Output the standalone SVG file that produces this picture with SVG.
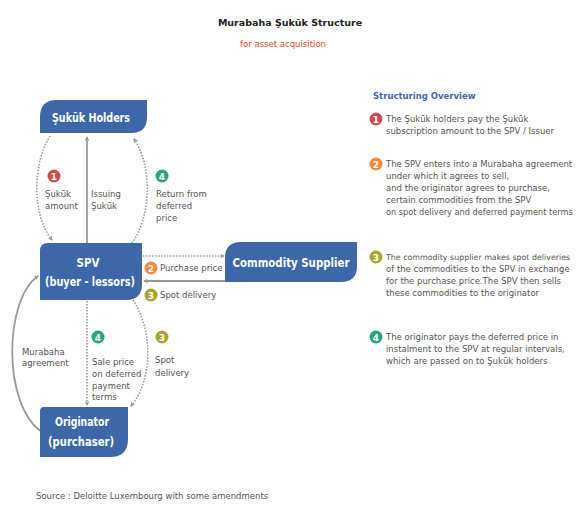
<svg xmlns="http://www.w3.org/2000/svg" width="582" height="509" viewBox="0 0 582 509">
<style>
.node{fill:#3d67a9}
.nt{font-family:"DejaVu Sans","Liberation Sans",sans-serif;font-weight:bold;fill:#fff;font-size:13px;text-anchor:middle}
.lb{font-family:"DejaVu Sans","Liberation Sans",sans-serif;fill:#555;font-size:8.5px}
.ov{font-family:"DejaVu Sans","Liberation Sans",sans-serif;fill:#555;font-size:8.5px}
.num{font-family:"DejaVu Sans","Liberation Sans",sans-serif;fill:#fff;font-size:9px;font-weight:bold;text-anchor:middle}
.dot{fill:none;stroke:#9a9a9a;stroke-width:1.6;stroke-dasharray:1.5 1.5}
.sol{fill:none;stroke:#9a9a9a;stroke-width:1.8}
</style>
<defs>
<marker id="ah" viewBox="0 0 10 10" refX="8" refY="5" markerWidth="5" markerHeight="5" orient="auto" markerUnits="userSpaceOnUse">
<path d="M0,0 L10,5 L0,10 L3,5 Z" fill="#9a9a9a"/>
</marker>
</defs>
<rect width="582" height="509" fill="#fff"/>
<text x="290" y="26" font-family="DejaVu Sans,sans-serif" font-weight="bold" font-size="9.5" fill="#222" text-anchor="middle">Murabaha Şukūk Structure</text>
<text x="283" y="47" font-family="DejaVu Sans,sans-serif" font-size="9" fill="#d4492f" text-anchor="middle" textLength="86" lengthAdjust="spacingAndGlyphs">for asset acquisition</text>

<g id="connectors">
<path class="dot" d="M50,136 C32,165 32,215 52,240" marker-end="url(#ah)"/>
<path class="sol" d="M87,243 L87,137" marker-end="url(#ah)"/>
<path class="dot" d="M132,243 C152,215 152,165 134,139" marker-end="url(#ah)"/>
<path class="dot" d="M143,256 L224,256" marker-end="url(#ah)"/>
<path class="sol" d="M225,281 L144,281" marker-end="url(#ah)"/>
<path class="dot" d="M87,301 L87,405" marker-end="url(#ah)"/>
<path class="dot" d="M133,300 C153,330 153,380 131,406" marker-end="url(#ah)"/>
<path class="sol" d="M42,432 C2,405 4,300 38,276" marker-end="url(#ah)"/>
</g>

<g id="sukuk-holders">
<path class="node" d="M40,133 L40,117 Q40,100 57,100 L147,100 L147,117 Q147,133 131,133 Z"/>
<text class="nt" x="91" y="122" textLength="78" lengthAdjust="spacingAndGlyphs">Şukūk Holders</text>
</g>
<g id="spv">
<path class="node" d="M40,300 L40,251 Q40,243 48,243 L142,243 L142,284 Q142,300 126,300 Z"/>
<text class="nt" x="88" y="267" textLength="23" lengthAdjust="spacingAndGlyphs">SPV</text>
<text class="nt" x="90" y="286" textLength="90" lengthAdjust="spacingAndGlyphs">(buyer - lessors)</text>
</g>
<g id="commodity-supplier">
<path class="node" d="M225,282 L225,258 Q225,242 241,242 L357,242 L357,266 Q357,282 341,282 Z"/>
<text class="nt" x="291" y="267" textLength="117" lengthAdjust="spacingAndGlyphs">Commodity Supplier</text>
</g>
<g id="originator">
<path class="node" d="M40,457 L40,411 Q40,407 44,407 L128,407 L128,439 Q128,457 110,457 Z"/>
<text class="nt" x="82" y="426" textLength="54" lengthAdjust="spacingAndGlyphs">Originator</text>
<text class="nt" x="81" y="446" textLength="66" lengthAdjust="spacingAndGlyphs">(purchaser)</text>
</g>

<g id="labels">
<circle cx="54" cy="176" r="6.5" fill="#cf4d4f"/><text class="num" x="54" y="179.5">1</text>
<text class="lb" x="45" y="197">Şukūk</text><text class="lb" x="45" y="209">amount</text>
<text class="lb" x="91" y="197">Issuing</text><text class="lb" x="91" y="209">Şukūk</text>
<circle cx="162" cy="176" r="6.5" fill="#2aa57a"/><text class="num" x="162" y="179.5">4</text>
<text class="lb" x="156" y="197">Return from</text><text class="lb" x="156" y="209">deferred</text><text class="lb" x="156" y="221">price</text>
<circle cx="151" cy="268" r="6.5" fill="#f08a3c"/><text class="num" x="151" y="271.5">2</text>
<text class="lb" x="160" y="271">Purchase price</text>
<circle cx="151" cy="295" r="6.5" fill="#a9a630"/><text class="num" x="151" y="298.5">3</text>
<text class="lb" x="160" y="298">Spot delivery</text>
<text class="lb" x="22" y="355">Murabaha</text><text class="lb" x="22" y="366">agreement</text>
<circle cx="98" cy="337" r="6.5" fill="#2aa57a"/><text class="num" x="98" y="340.5">4</text>
<text class="lb" x="92" y="365">Sale price</text><text class="lb" x="92" y="377">on deferred</text><text class="lb" x="92" y="389">payment</text><text class="lb" x="92" y="400">terms</text>
<circle cx="162" cy="337" r="6.5" fill="#a9a630"/><text class="num" x="162" y="340.5">3</text>
<text class="lb" x="155" y="363">Spot</text><text class="lb" x="155" y="376">delivery</text>
</g>

<g id="overview">
<text x="373" y="99" font-family="DejaVu Sans,sans-serif" font-weight="bold" font-size="8.5" fill="#3d67a9">Structuring Overview</text>
<circle cx="376" cy="119" r="6.5" fill="#cf4d4f"/><text class="num" x="376" y="122.5">1</text>
<text class="ov" x="386" y="122">The Şukūk holders pay the Şukūk</text>
<text class="ov" x="386" y="134">subscription amount to the SPV / Issuer</text>
<circle cx="376" cy="164" r="6.5" fill="#f08a3c"/><text class="num" x="376" y="167.5">2</text>
<text class="ov" x="386" y="167">The SPV enters into a Murabaha agreement</text>
<text class="ov" x="386" y="179">under which it agrees to sell,</text>
<text class="ov" x="386" y="191">and the originator agrees to purchase,</text>
<text class="ov" x="386" y="203">certain commodities from the SPV</text>
<text class="ov" x="386" y="215" style="font-size:8.2px">on spot delivery and deferred payment terms</text>
<circle cx="376" cy="257" r="6.5" fill="#a9a630"/><text class="num" x="376" y="260.5">3</text>
<text class="ov" x="386" y="260" style="font-size:7.9px">The commodity supplier makes spot deliveries</text>
<text class="ov" x="386" y="272">of the commodities to the SPV in exchange</text>
<text class="ov" x="386" y="284">for the purchase price.The SPV then sells</text>
<text class="ov" x="386" y="296">these commodities to the originator</text>
<circle cx="376" cy="337" r="6.5" fill="#2aa57a"/><text class="num" x="376" y="340.5">4</text>
<text class="ov" x="386" y="340">The originator pays the deferred price in</text>
<text class="ov" x="386" y="352">instalment to the SPV at regular intervals,</text>
<text class="ov" x="386" y="364">which are passed on to Şukūk holders</text>
</g>
<text x="36" y="499" font-family="DejaVu Sans,sans-serif" font-size="8.5" fill="#555">Source : Deloitte Luxembourg with some amendments</text>
</svg>
